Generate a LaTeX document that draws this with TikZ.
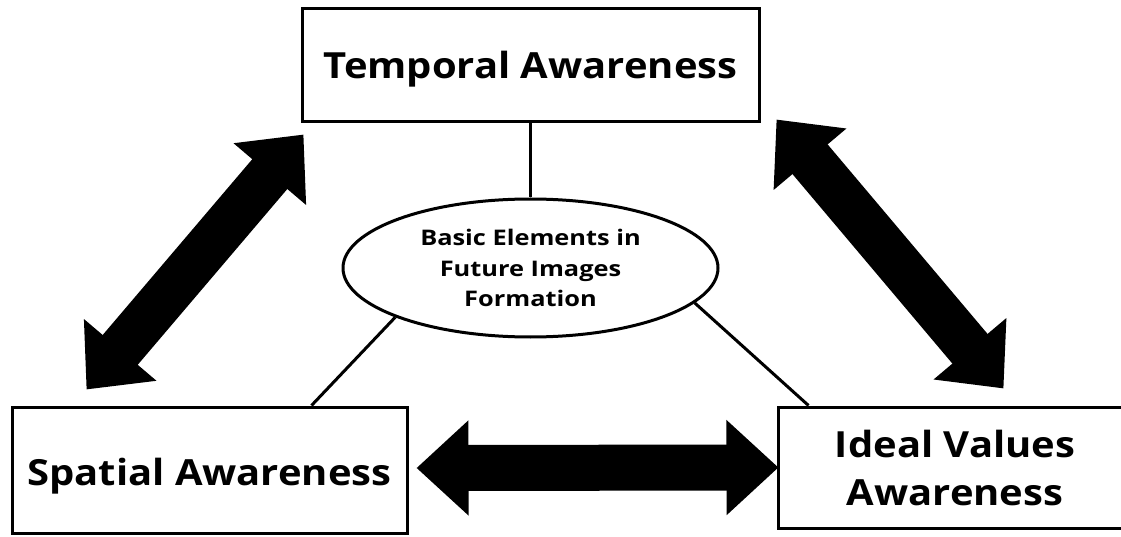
\documentclass[tikz,border=0pt]{standalone}
\usepackage{fontspec}
\setmainfont{Open Sans}[FakeStretch=1.11]
\newfontfamily\corefont{Open Sans}[FakeStretch=1.18]
\usetikzlibrary{arrows.meta,shapes.geometric}

\tikzset{
  awarebox/.style={draw, rectangle, line width=3pt, inner sep=0pt, align=center,
    font=\fontsize{36}{48}\selectfont\bfseries},
  corebox/.style={draw, ellipse, line width=3pt, inner sep=0pt, align=center,
    font=\corefont\fontsize{21.5}{30.5}\selectfont\bfseries},
  bigarrow/.style={line width=46pt,
    {Triangle[width=92pt,length=52pt]}-{Triangle[width=92pt,length=52pt]}},
  thinline/.style={line width=3pt}
}

\begin{document}
\begin{tikzpicture}[x=1pt,y=-1pt]
\useasboundingbox (0,0) rectangle (1121,537);
\clip (0,0) rectangle (1121,537);

% the three awareness boxes
\node[awarebox, minimum width=457pt, minimum height=113pt, text height=30pt, text depth=3pt]
  (temporal) at (530.5,65.5) {Temporal Awareness};
\node[awarebox, minimum width=395pt, minimum height=126pt, text height=30pt, text depth=0pt]
  (spatial) at (209.5,470) {Spatial Awareness};
\node[awarebox, minimum width=400pt, minimum height=121pt]
  (ideal) at (978,467.5) {};
\node[awarebox, draw=none] (ideal text) at (955,467.5) {Ideal Values\\Awareness};

% centre
\node[corebox, minimum width=375pt, minimum height=138pt]
  (core) at (530.5,268) {Basic Elements in\\Future Images\\Formation};

\draw[thinline] (temporal.south) -- (core.north);
\draw[thinline] (core.200) -- ([xshift=301pt]spatial.north west);
\draw[thinline] (core.348) -- ([xshift=32pt]ideal.north west);

% thick double arrows
\draw[bigarrow] ([shift={(76,-16)}]spatial.north west) -- ([shift={(3,11)}]temporal.south west);
\draw[bigarrow] ([shift={(16,-4)}]temporal.south east) -- ([shift={(227,-17)}]ideal.north west);
\draw[bigarrow] ([xshift=8pt,yshift=2pt]spatial.east) -- ([xshift=2pt]ideal.west);
\end{tikzpicture}
\end{document}
